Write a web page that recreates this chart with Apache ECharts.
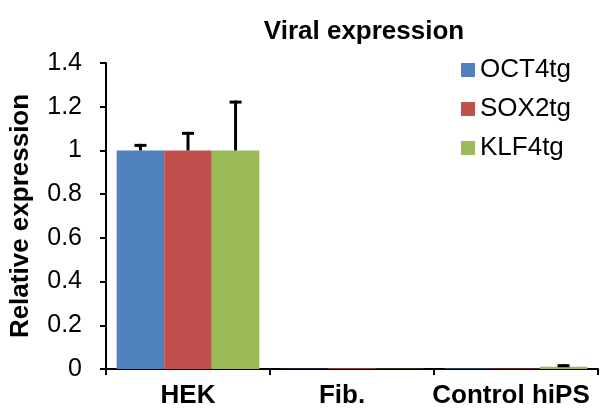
<!DOCTYPE html>
<html>
<head>
<meta charset="utf-8">
<script src="https://cdn.jsdelivr.net/npm/echarts@6/dist/echarts.min.js"></script>
<style>html,body{margin:0;padding:0;background:#fff}#c{width:600px;height:411px}</style>
</head>
<body>
<div id="c"></div>
<script>
var categories = ['HEK', 'Fib.', 'Control hiPS'];
var seriesNames = ['OCT4tg', 'SOX2tg', 'KLF4tg'];
var oct4 = [1, 0.001, 0.002];
var sox2 = [1, 0.003, 0.002];
var klf4 = [1, 0.001, 0.01];
var oct4Err = [0.03, 0, 0];
var sox2Err = [0.085, 0, 0];
var klf4Err = [0.228, 0, 0.012];
var yTicks = [0, 0.2, 0.4, 0.6, 0.8, 1, 1.2, 1.4];

var colors = ['#4F81BD', '#C0504D', '#9BBB59'];
var values = [oct4, sox2, klf4];
var errs = [oct4Err, sox2Err, klf4Err];
var gapRatio = 0.13;
var font = 'Liberation Sans, Arial, sans-serif';
var labelPad = { 'HEK': [0, 0, 0, 0], 'Fib.': [0, 20, 0, 0], 'Control hiPS': [0, 10, 0, 0] };

var series = [];
values.forEach(function (v, i) {
  series.push({
    name: seriesNames[i], type: 'bar', data: v,
    barGap: 0, barCategoryGap: (gapRatio * 100) + '%',
    itemStyle: { color: colors[i] }, silent: true
  });
});
values.forEach(function (v, i) {
  var data = v.map(function (val, k) { return [k, val, val + errs[i][k]]; });
  series.push({
    type: 'custom', silent: true, z: 5,
    data: data,
    renderItem: function (params, api) {
      var k = api.value(0);
      var lo = api.coord([k, api.value(1)]);
      var hi = api.coord([k, api.value(2)]);
      var band = api.size([1, 0])[0];
      var bw = band * (1 - gapRatio) / 3;
      var x = lo[0] + (i - 1) * bw;
      if (Math.abs(lo[1] - hi[1]) < 0.5) return null;
      var capW = 6;
      return {
        type: 'group', children: [
          { type: 'line', shape: { x1: x, y1: lo[1], x2: x, y2: hi[1] }, style: { stroke: '#000', lineWidth: 3 } },
          { type: 'line', shape: { x1: x - capW, y1: hi[1] + 1.5, x2: x + capW, y2: hi[1] + 1.5 }, style: { stroke: '#000', lineWidth: 3 } }
        ]
      };
    }
  });
});

var chart = echarts.init(document.getElementById('c'), null, { renderer: 'canvas' });
chart.setOption({
  animation: false,
  title: {
    text: 'Viral expression', left: 359, top: 14, textAlign: 'center',
    textStyle: { fontFamily: font, fontSize: 26, fontWeight: 'bold', color: '#000' }
  },
  legend: {
    data: seriesNames, orient: 'vertical', left: 461, top: 57,
    itemWidth: 14, itemHeight: 14, itemGap: 13, icon: 'rect', padding: 0,
    textStyle: { fontFamily: font, fontSize: 26, color: '#000' }
  },
  grid: { left: 106, right: 2, top: 63, bottom: 42, containLabel: false },
  xAxis: {
    type: 'category',
    data: categories.map(function (c) { return { value: c, textStyle: { padding: labelPad[c] } }; }),
    axisLine: { lineStyle: { color: '#000', width: 2 } },
    axisTick: { show: true, length: 6, lineStyle: { color: '#000', width: 2 } },
    axisLabel: { interval: 0, hideOverlap: false, fontFamily: font, fontSize: 26, fontWeight: 'bold', color: '#000', margin: 14 }
  },
  yAxis: {
    type: 'value', min: 0, max: 1.4, interval: 0.2,
    name: 'Relative expression', nameLocation: 'middle', nameGap: 72,
    nameTextStyle: { fontFamily: font, fontSize: 26, fontWeight: 'bold', color: '#000' },
    axisLine: { show: true, lineStyle: { color: '#000', width: 2 } },
    axisTick: { show: true, length: 6, lineStyle: { color: '#000', width: 2 } },
    splitLine: { show: false },
    axisLabel: {
      fontFamily: font, fontSize: 25, color: '#000', margin: 24,
      formatter: function (v) { var t = yTicks.filter(function (y) { return Math.abs(y - v) < 1e-9; }); return t.length ? String(t[0]) : ''; }
    }
  },
  series: series
});
</script>
</body>
</html>
